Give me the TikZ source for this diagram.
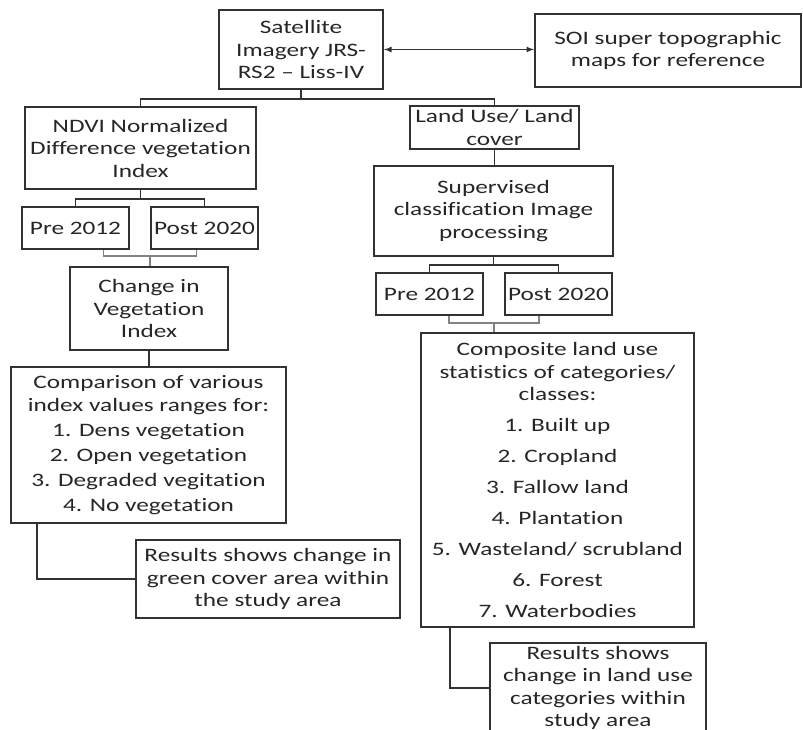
\documentclass[tikz,border=0pt]{standalone}
\usepackage{fontspec}
\setmainfont[FakeStretch=1.33, Ligatures=NoCommon, RawFeature={-calt;-liga;-dlig}]{Carlito}
\usepackage{tikz}
\usetikzlibrary{arrows}
\usetikzlibrary{positioning}
\definecolor{linegray}{RGB}{50,50,50}
\definecolor{bracketgray}{RGB}{130,130,130}
\tikzset{
	% font=\sffamily, %%  Uncomment for Latin Modern Sans
    box/.style={draw=linegray, line width=1.8pt, align=center, inner sep=0pt,
        text=black!85, font=\fontsize{19}{22.5}\selectfont},
    link/.style={draw=linegray, line width=1.8pt},
    bracket/.style={draw=bracketgray, line width=1.8pt},
    both/.style={draw=linegray, line width=1.6pt, <->, >=latex},
}

\begin{document}
\begin{tikzpicture}[x=1pt, y=-1pt]
	\useasboundingbox (0,0) rectangle (803,730);
	\node[box, minimum width=164, minimum height=79] (sat) at (301,49.5) {Satellite\\Imagery JRS-\\RS2 -- Liss-IV};
	\node[box, minimum width=266, minimum height=73] (soi) at (668,50.5) {SOI super topographic\\maps for reference};
	\node[box, minimum width=231, minimum height=82] (ndvi) at (140.5,148) {NDVI Normalized\\Difference vegetation\\Index};
	\node[box, minimum width=169, minimum height=43] (lulc) at (494.5,127.5) {Land Use/ Land\\cover};
	\node[box, minimum width=239, minimum height=90] (sup) at (493.5,211) {Supervised\\classification Image\\processing};
	\node[box, minimum width=107, minimum height=42] (pre1) at (75.5,228) {Pre 2012};
	\node[box, minimum width=107, minimum height=42] (post1) at (204.5,228) {Post 2020};
	\node[box, minimum width=158, minimum height=83] (chg) at (149,308.5) {Change in\\Vegetation\\Index};
	\node[box, minimum width=275, minimum height=156] (cmp) at (148.5,445) {Comparison of various\\index values ranges for:\\[2.5pt]
		1. Dens vegetation\\[2.5pt]2. Open vegetation\\[2.5pt]3. Degraded vegitation\\[2.5pt]4. No vegetation};
	\node[box, minimum width=264, minimum height=78] (res1) at (268,579) {Results shows change in\\green cover area within\\the study area};
	\node[box, minimum width=107, minimum height=42] (pre2) at (429.5,294) {Pre 2012};
	\node[box, minimum width=107, minimum height=42] (post2) at (558.5,294) {Post 2020};
	\node[box, minimum width=273, minimum height=294] (comp) at (557.5,480) {Composite land use\\statistics of categories/\\classes:\\[8pt]
		1. Built up\\[8.5pt]2. Cropland\\[8.5pt]3. Fallow land\\[8.5pt]4. Plantation\\[8.5pt]5. Wasteland/ scrubland\\[8.5pt]6. Forest\\[8.5pt]7. Waterbodies};
	\node[box, minimum width=216, minimum height=90] (res2) at (598,688) {Results shows\\change in land use\\categories within\\study area};
	\coordinate (j1) at (150,256);
	\coordinate (j2) at (494,323);

	\draw[both] (sat.east) -- (sat.east -| soi.west);
	\draw[link] (sat.south) -- ++(0,9) -| (ndvi.north);
	\draw[link] (sat.south) -- ++(0,9) -| (lulc.north);
	\draw[link] (lulc.south) -- (lulc.south |- sup.north);
	\draw[link] (ndvi.south) -- ++(0,9) -| (pre1.north);
	\draw[link] (ndvi.south) -- ++(0,9) -| (post1.north);
	\draw[bracket] ([xshift=28pt]pre1.south) |- (j1) -| ([xshift=-8pt]post1.south);
	\draw[bracket] (j1) -- (j1 |- chg.north);
	\draw[link] (chg.south) -- (chg.south |- cmp.north);
	\draw[link] ([xshift=27pt]cmp.south west) |- (res1.west);
	\draw[link] (sup.south) -- ++(0,8) -| (pre2.north);
	\draw[link] (sup.south) -- ++(0,8) -| (post2.north);
	\draw[bracket] ([xshift=19.5pt]pre2.south) |- (j2) -| ([xshift=-19.5pt]post2.south);
	\draw[bracket] (j2) -- (j2 |- comp.north);
	\draw[link] ([xshift=30pt]comp.south west) |- (res2.west);
\end{tikzpicture}
\end{document}
